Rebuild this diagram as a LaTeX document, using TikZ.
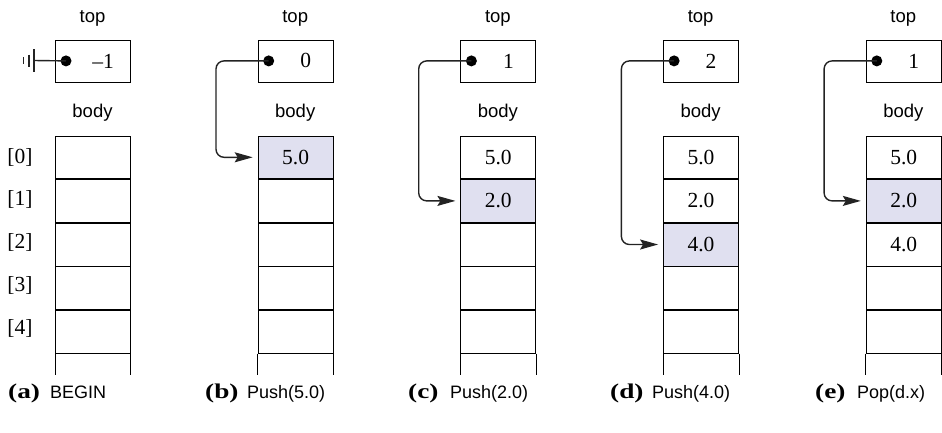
\documentclass[tikz,border=0pt]{standalone}
\usepackage{fontspec}
\setmainfont{Liberation Serif}
\setsansfont{Liberation Sans}
\usetikzlibrary{arrows.meta}
\definecolor{hl}{RGB}{224,224,240}
\definecolor{ptrc}{RGB}{35,35,35}
\tikzset{
  lbl/.style={font=\sffamily\fontsize{18.5}{20}\selectfont, inner sep=0pt},
  num/.style={font=\fontsize{21.5}{23}\selectfont, inner sep=0pt},
  topbox/.style={draw, line width=0.8pt, minimum width=75pt, minimum height=42pt, inner sep=0pt, anchor=north west},
  cell/.style={draw, line width=0.8pt, minimum width=75pt, minimum height=42.8pt, inner sep=0pt, anchor=north west, font=\fontsize{21.5}{23}\selectfont},
  hcell/.style={cell, fill=hl},
  ptr/.style={draw=ptrc, line width=1.4pt, rounded corners=8pt, -{Stealth[length=18pt,width=10pt,inset=3pt]}, shorten >=5pt},
  dotc/.style={circle, fill=black, inner sep=0pt, minimum size=11pt},
  caplab/.style={anchor=base west, inner sep=0pt, font=\bfseries\fontsize{21}{23}\selectfont},
  captxt/.style={anchor=base west, inner sep=0pt, font=\sffamily\fontsize{18}{20}\selectfont},
  idx/.style={font=\fontsize{21.5}{23}\selectfont, inner sep=0pt}
}
\begin{document}
\begin{tikzpicture}[x=1pt,y=-1pt]
\useasboundingbox (0,0) rectangle (942,432);
\foreach \p/\xx in {a/55, b/257.7, c/460.4, d/663.1, e/865.8}{
  \node[lbl] (top\p) at (\xx+37.5,18) {top};
  \node[topbox] (box\p) at (\xx,39.5) {};
  \node[lbl] (body\p) at (\xx+37.5,113) {body};
}
\foreach \i in {0,...,4}{
  \node[idx] (ix\i) at (20,157+\i*42.8) {[\i]};
}
% panel a
\node[cell] (ac0) at (55,135.5) {};
\node[cell] (ac1) at (ac0.south west) {};
\node[cell] (ac2) at (ac1.south west) {};
\node[cell] (ac3) at (ac2.south west) {};
\node[cell] (ac4) at (ac3.south west) {};
% panel b
\node[hcell] (bc0) at (257.7,135.5) {5.0};
\node[cell] (bc1) at (bc0.south west) {};
\node[cell] (bc2) at (bc1.south west) {};
\node[cell] (bc3) at (bc2.south west) {};
\node[cell] (bc4) at (bc3.south west) {};
% panel c
\node[cell] (cc0) at (460.4,135.5) {5.0};
\node[hcell] (cc1) at (cc0.south west) {2.0};
\node[cell] (cc2) at (cc1.south west) {};
\node[cell] (cc3) at (cc2.south west) {};
\node[cell] (cc4) at (cc3.south west) {};
% panel d
\node[cell] (dc0) at (663.1,135.5) {5.0};
\node[cell] (dc1) at (dc0.south west) {2.0};
\node[hcell] (dc2) at (dc1.south west) {4.0};
\node[cell] (dc3) at (dc2.south west) {};
\node[cell] (dc4) at (dc3.south west) {};
% panel e
\node[cell] (ec0) at (865.8,135.5) {5.0};
\node[hcell] (ec1) at (ec0.south west) {2.0};
\node[cell] (ec2) at (ec1.south west) {4.0};
\node[cell] (ec3) at (ec2.south west) {};
\node[cell] (ec4) at (ec3.south west) {};
% open bottoms
\foreach \p in {a,b,c,d,e}{
  \draw[line width=0.8pt] (\p c4.south west) -- ++(0,21.5);
  \draw[line width=0.8pt] (\p c4.south east) -- ++(0,21.5);
}
% top values and dots
\foreach \p/\v in {a/{--1}, b/0, c/1, d/2, e/1}{
  \node[dotc] (dot\p) at ([xshift=11pt]box\p.west) {};
  \node[num] (val\p) at ([xshift=48pt]box\p.west) {\v};
}
% ground symbol
\coordinate (gnd) at (34,60.5);
\draw[ptrc, line width=1.4pt] (dota.center) -- (gnd);
\draw[ptrc, line width=1.4pt] (34,49) -- (34,72);
\draw[ptrc, line width=1.4pt] (29,54.5) -- (29,66.5);
\draw[ptrc, line width=1.4pt] (23.5,57) -- (23.5,64);
% pointers
\coordinate (bendb) at (216,100);
\coordinate (bendc) at (418.7,100);
\coordinate (bendd) at (621.4,100);
\coordinate (bende) at (824.1,100);
\draw[ptr] (dotb.center) -| (bendb) |- (bc0.west);
\draw[ptr] (dotc.center) -| (bendc) |- (cc1.west);
\draw[ptr] (dotd.center) -| (bendd) |- (dc2.west);
\draw[ptr] (dote.center) -| (bende) |- (ec1.west);
% captions
\foreach \p/\xx/\t in {a/8/BEGIN, b/205/Push(5.0), c/408/Push(2.0), d/610/Push(4.0), e/815/Pop(d.x)}{
  \node[caplab] (capl\p) at (\xx,398) {\scalebox{1.3}[1]{(\p)}};
  \node[captxt] (capt\p) at (\xx+42,398) {\t};
}
\end{tikzpicture}
\end{document}
